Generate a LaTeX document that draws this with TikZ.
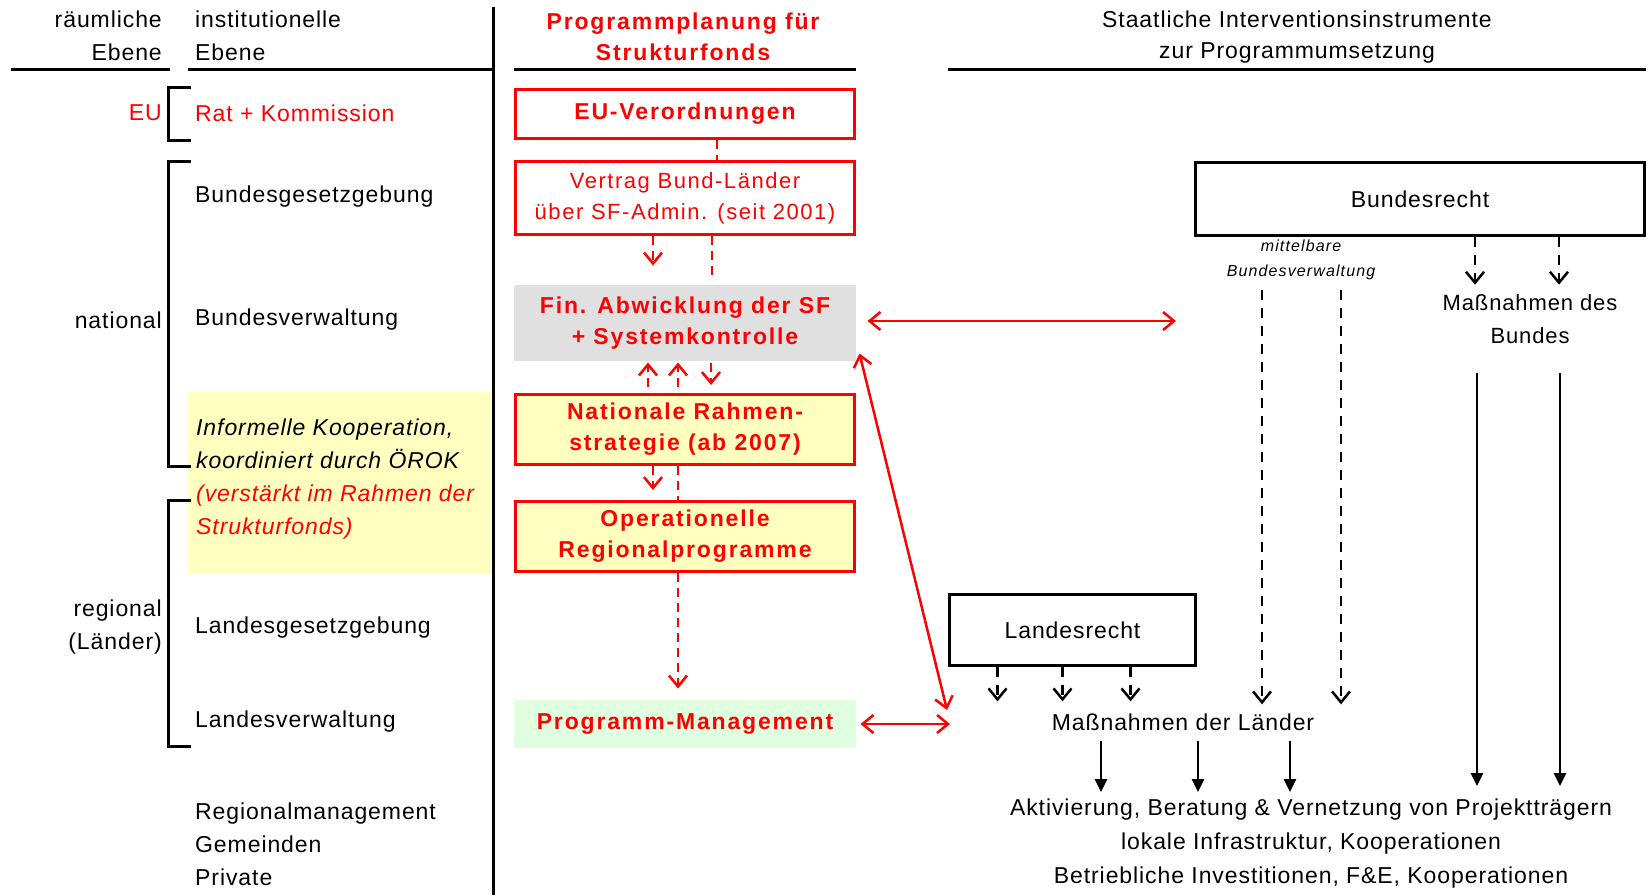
\documentclass[tikz,border=0pt]{standalone}
\usepackage{fontspec}
\setmainfont{Liberation Sans}[LetterSpace=4]
\newfontfamily\boxfont[LetterSpace=8]{Liberation Sans}
\newfontfamily\vfont[LetterSpace=7]{Liberation Sans}
\usetikzlibrary{arrows.meta}
\definecolor{sfred}{RGB}{255,0,0}
\definecolor{sfgray}{RGB}{224,224,224}
\definecolor{sfyellow}{RGB}{255,255,192}
\definecolor{sfgreen}{RGB}{224,255,224}

\begin{document}
\begin{tikzpicture}[x=1pt, y=-1pt,
    every node/.style={inner sep=0pt, font=\fontsize{23}{33}\selectfont},
    rbox/.style={draw=sfred, line width=3pt, minimum width=339pt, text=sfred, align=center,
      font=\boxfont\bfseries\fontsize{23}{31}\selectfont},
    bbox/.style={draw, line width=3pt},
    rline/.style={draw=sfred, line width=2.5pt},
    reddash/.style={rline, dash pattern=on 9pt off 6pt},
    blkdash/.style={line width=2.5pt, dash pattern=on 10pt off 8pt},
    barb/.style={-{Straight Barb[length=11pt,width=18pt]}},
    dbarb/.style={{Straight Barb[length=11pt,width=18pt]}-{Straight Barb[length=11pt,width=18pt]}},
    solidarrow/.style={line width=2.5pt, -{Triangle[length=13pt,width=12pt]}}]
  \useasboundingbox (0,0) rectangle (1649,895);

  % left columns
  \fill[sfyellow] (188,392) rectangle (493,574);
  \node[anchor=east, align=right] (raum) at (162,36) {räumliche\\Ebene};
  \node[anchor=west, align=left] (inst) at (195,36) {institutionelle\\Ebene};
  \node[anchor=east, text=sfred] (eu) at (162,113) {EU};
  \node[anchor=west, text=sfred] (rat) at (195,113) {Rat + Kommission};
  \node[anchor=west] (bgg) at (195,197) {Bundesgesetzgebung};
  \node[anchor=east] (nat) at (162,320) {national};
  \node[anchor=west] (bvw) at (195,320) {Bundesverwaltung};
  \node[anchor=west, align=left, font=\itshape\fontsize{23}{33}\selectfont] (info) at (196,479)
    {Informelle Kooperation,\\koordiniert durch ÖROK\\\textcolor{sfred}{(verstärkt im Rahmen der}\\\textcolor{sfred}{Strukturfonds)}};
  \node[anchor=east, align=right] (reg) at (162,627.5) {regional\\(Länder)};
  \node[anchor=west] (lgg) at (195,628) {Landesgesetzgebung};
  \node[anchor=west] (lvw) at (195,722) {Landesverwaltung};
  \node[anchor=west, align=left] (priv) at (195,844) {Regionalmanagement\\Gemeinden\\Private};

  \draw[line width=3pt] (11,69) -- (170,69);
  \draw[line width=3pt] (188,69) -- (493,69);
  \draw[line width=3pt] (493,7) -- (493,895);
  \draw[line width=3pt] (191,87) -- (168,87) -- (168,140) -- (191,140);
  \draw[line width=3pt] (191,161) -- (168,161) -- (168,466) -- (191,466);
  \draw[line width=3pt] (191,500) -- (168,500) -- (168,746) -- (191,746);

  % Programmplanung
  \node[align=center, text=sfred, font=\boxfont\bfseries\fontsize{23}{31}\selectfont] (prog) at (683,37)
    {Programmplanung für\\Strukturfonds};
  \draw[line width=3pt] (514,69) -- (856,69);
  \node[rbox, minimum height=49pt] (euv) at (685,114) {EU-Verordnungen};
  \node[rbox, minimum height=73pt, font=\vfont\fontsize{22}{31}\selectfont] (vertrag) at (685,198)
    {Vertrag Bund-Länder\\über SF-Admin. (seit 2001)};
  \node[rbox, draw=none, fill=sfgray, minimum width=342pt, minimum height=76pt] (fin) at (685,323)
    {Fin. Abwicklung der SF\\+ Systemkontrolle};
  \node[rbox, fill=sfyellow, minimum height=70pt] (nrs) at (685,429.5) {Nationale Rahmen-\\strategie (ab 2007)};
  \node[rbox, fill=sfyellow, minimum height=70pt] (opr) at (685,536.5) {Operationelle\\Regionalprogramme};
  \node[rbox, draw=none, fill=sfgreen, minimum width=342pt, minimum height=48pt] (pm) at (685,724)
    {Programm-Management};

  \draw[reddash] ([xshift=32pt]euv.south) -- ([xshift=32pt]vertrag.north);
  \draw[reddash, barb, shorten >=18pt] ([xshift=-32pt]vertrag.south) -- ([xshift=-32pt]fin.north);
  \draw[reddash, shorten >=5pt] ([xshift=27pt]vertrag.south) -- ([xshift=27pt]fin.north);
  \draw[reddash, barb, shorten <=6pt] ([xshift=-37pt]nrs.north) -- ([xshift=-37pt]fin.south);
  \draw[reddash, barb, shorten <=6pt] ([xshift=-7pt]nrs.north) -- ([xshift=-7pt]fin.south);
  \draw[reddash, barb, shorten >=8pt] ([xshift=26pt]fin.south) -- ([xshift=26pt]nrs.north);
  \draw[reddash, barb, shorten >=10pt] ([xshift=-32pt]nrs.south) -- ([xshift=-32pt]opr.north);
  \draw[reddash] ([xshift=-7pt]nrs.south) -- ([xshift=-7pt]opr.north);
  \draw[reddash, barb, shorten >=10pt] ([xshift=-7pt]opr.south) -- ([xshift=-7pt]pm.north);

  % Interventionsinstrumente
  \node[align=center, font=\fontsize{23}{31}\selectfont] (rtitle) at (1297,37)
    {Staatliche Interventionsinstrumente\\zur Programmumsetzung};
  \draw[line width=3pt] (948,69) -- (1646,69);
  \node[bbox, minimum width=449pt, minimum height=73pt] (br) at (1420,199) {Bundesrecht};
  \node[bbox, minimum width=246pt, minimum height=71pt] (lr) at (1072.5,630) {Landesrecht};
  \node[align=center, font=\vfont\itshape\fontsize{16}{25}\selectfont] (mbv) at (1301,260)
    {mittelbare\\Bundesverwaltung};
  \node[align=center, font=\fontsize{22}{33}\selectfont] (mdb) at (1530,319.5) {Maßnahmen des\\Bundes};
  \node (mdl) at (1183,722) {Maßnahmen der Länder};
  \node[align=center, font=\fontsize{23}{34}\selectfont] (akt) at (1311,844)
    {Aktivierung, Beratung \& Vernetzung von Projektträgern\\lokale Infrastruktur, Kooperationen\\Betriebliche Investitionen, F\&E, Kooperationen};

  \coordinate (finR) at (1176,321);
  \coordinate (diagEnd) at (947,710);
  \coordinate (pmR) at (950,724);
  \draw[rline, dbarb, shorten <=10pt] ([yshift=2pt]fin.east) -- (finR);
  \draw[rline, dbarb] ([xshift=2pt,yshift=9pt]fin.south east) -- (diagEnd);
  \draw[rline, dbarb, shorten <=3pt] (pm.east) -- (pmR);

  \foreach \dx in {55,139}
    \draw[blkdash, barb, shorten >=10pt] ([xshift=\dx pt]br.south) -- ([xshift=\dx pt]br.south |- mdb.north);
  \foreach \dx in {-39,40}
    \draw[blkdash, barb, shorten <=10pt, shorten >=9pt] ([xshift=\dx pt]mbv.south) -- ([xshift=\dx pt]mbv.south |- mdl.north);
  \foreach \dx in {-75,-10,58}
    \draw[blkdash, barb, shorten >=12pt] ([xshift=\dx pt]lr.south) -- ([xshift=\dx pt]lr.south |- mdl.north);
  \foreach \dx in {-82,15,107}
    \draw[solidarrow, shorten <=10pt, shorten >=7pt] ([xshift=\dx pt]mdl.south) -- ([xshift=\dx pt]mdl.south |- akt.north);
  \foreach \dx in {-53,30}
    \draw[solidarrow, shorten <=29pt, shorten >=13pt] ([xshift=\dx pt]mdb.south) -- ([xshift=\dx pt]mdb.south |- akt.north);
\end{tikzpicture}
\end{document}
